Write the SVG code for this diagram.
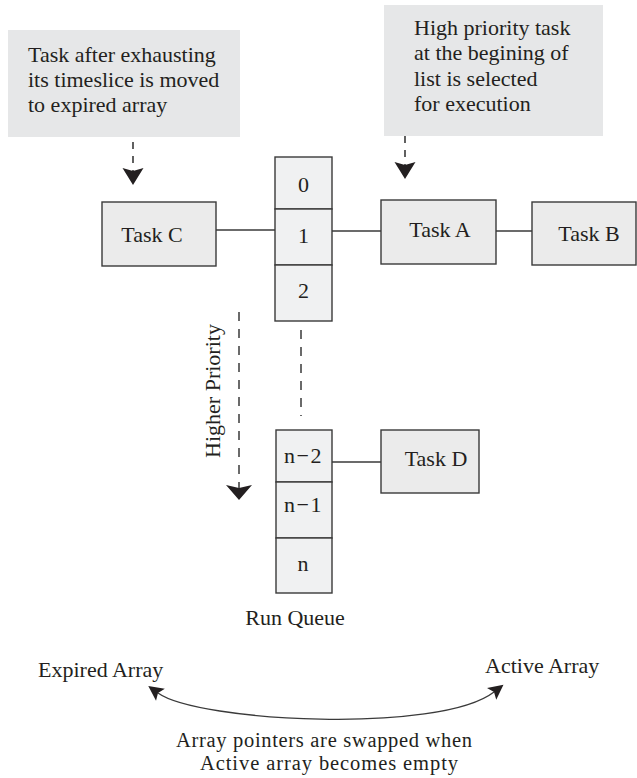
<svg xmlns="http://www.w3.org/2000/svg" width="637" height="778" viewBox="0 0 637 778">
<style>
text{font-family:"Liberation Serif","Times New Roman",serif;font-size:22px;fill:#231f20}
.note{fill:#e6e7e8;stroke:none}
.box{fill:#ebebeb;stroke:#3a3a3a;stroke-width:1.4}
.cell{fill:#f0f1f2;stroke:#3a3a3a;stroke-width:1.4}
.line{fill:none;stroke:#3a3a3a;stroke-width:1.3}
.dash{fill:none;stroke:#3a3a3a;stroke-width:1.6;stroke-dasharray:7 7}
.dash2{fill:none;stroke:#3a3a3a;stroke-width:1.5;stroke-dasharray:9 8}
.c{text-anchor:middle}
.sm{font-size:20.5px}
</style>
<defs>
<marker id="headS" markerUnits="userSpaceOnUse" markerWidth="30" markerHeight="30" refX="3" refY="0" viewBox="-2 -15 30 30" orient="auto">
<path d="M17,0 L0,-10.5 L3,0 L0,10.5 Z" fill="#231f20"/>
</marker>
<marker id="headB" markerUnits="userSpaceOnUse" markerWidth="30" markerHeight="30" refX="3" refY="0" viewBox="-2 -15 30 30" orient="auto">
<path d="M15,0 L0,-13 L3,0 L0,13 Z" fill="#231f20"/>
</marker>
<marker id="headC" markerUnits="userSpaceOnUse" markerWidth="30" markerHeight="30" refX="3" refY="0" viewBox="-2 -15 30 30" orient="auto-start-reverse">
<path d="M15,0 L0,-7.5 L3,0 L0,7.5 Z" fill="#231f20"/>
</marker>
</defs>

<g id="note-expired">
<rect class="note" x="8" y="30" width="232" height="107"/>
<text x="28" y="62">Task after exhausting</text>
<text x="28" y="87">its timeslice is moved</text>
<text x="28" y="112">to expired array</text>
</g>
<g id="note-priority">
<rect class="note" x="384" y="5" width="219" height="131"/>
<text x="414" y="35">High priority task</text>
<text x="414" y="60.3">at the begining of</text>
<text x="414" y="85.6">list is selected</text>
<text x="414" y="111">for execution</text>
</g>

<g id="connectors">
<line class="dash" x1="133" y1="142" x2="133" y2="171" marker-end="url(#headS)"/>
<line class="dash" x1="405" y1="136" x2="405" y2="165" marker-end="url(#headS)"/>
<line class="line" x1="216" y1="230" x2="275" y2="230"/>
<line class="line" x1="332" y1="231" x2="381" y2="231"/>
<line class="line" x1="496" y1="231" x2="532" y2="231"/>
<line class="line" x1="332" y1="462" x2="381" y2="462"/>
<line class="dash2" x1="301" y1="330" x2="301" y2="416"/>
<line class="dash2" x1="239" y1="312" x2="239" y2="488" marker-end="url(#headB)"/>
<path class="line" d="M158,693 C198,722 440,734 494,692" stroke-width="1.6" marker-start="url(#headC)" marker-end="url(#headC)"/>
</g>

<g id="task-c">
<rect class="box" x="102" y="202" width="114" height="64"/>
<text class="c" x="152" y="242">Task C</text>
</g>
<g id="task-a">
<rect class="box" x="381" y="200" width="115" height="64"/>
<text class="c" x="440" y="237">Task A</text>
</g>
<g id="task-b">
<rect class="box" x="532" y="202" width="104" height="63"/>
<text class="c" x="589" y="241">Task B</text>
</g>
<g id="task-d">
<rect class="box" x="381" y="430" width="98" height="63"/>
<text class="c" x="436" y="466">Task D</text>
</g>

<g id="run-queue-top">
<rect class="cell" x="275" y="157" width="57" height="52"/>
<text class="c" x="303.5" y="192">0</text>
<rect class="cell" x="275" y="209" width="57" height="56"/>
<text class="c" x="303.5" y="243">1</text>
<rect class="cell" x="275" y="265" width="57" height="56"/>
<text class="c" x="303.5" y="298">2</text>
</g>
<g id="run-queue-bottom">
<rect class="cell" x="276" y="430" width="56" height="52"/>
<text class="c" x="303.5" y="463" letter-spacing="1.5">n−2</text>
<rect class="cell" x="276" y="482" width="56" height="56"/>
<text class="c" x="303.5" y="512" letter-spacing="1.5">n−1</text>
<rect class="cell" x="276" y="538" width="56" height="55"/>
<text class="c" x="303" y="571">n</text>
</g>
<g id="run-queue-label">
<text class="c" x="295" y="625">Run Queue</text>
</g>
<g id="higher-priority">
<text class="c" transform="translate(220,391) rotate(-90)">Higher Priority</text>
</g>
<g id="expired-array">
<text x="38" y="677">Expired Array</text>
</g>
<g id="active-array">
<text x="485" y="673">Active Array</text>
</g>
<g id="swap-label">
<text class="c sm" x="324" y="746.5" textLength="296" lengthAdjust="spacing">Array pointers are swapped when</text>
<text class="c sm" x="329" y="769.5" textLength="258" lengthAdjust="spacing">Active array becomes empty</text>
</g>
</svg>
